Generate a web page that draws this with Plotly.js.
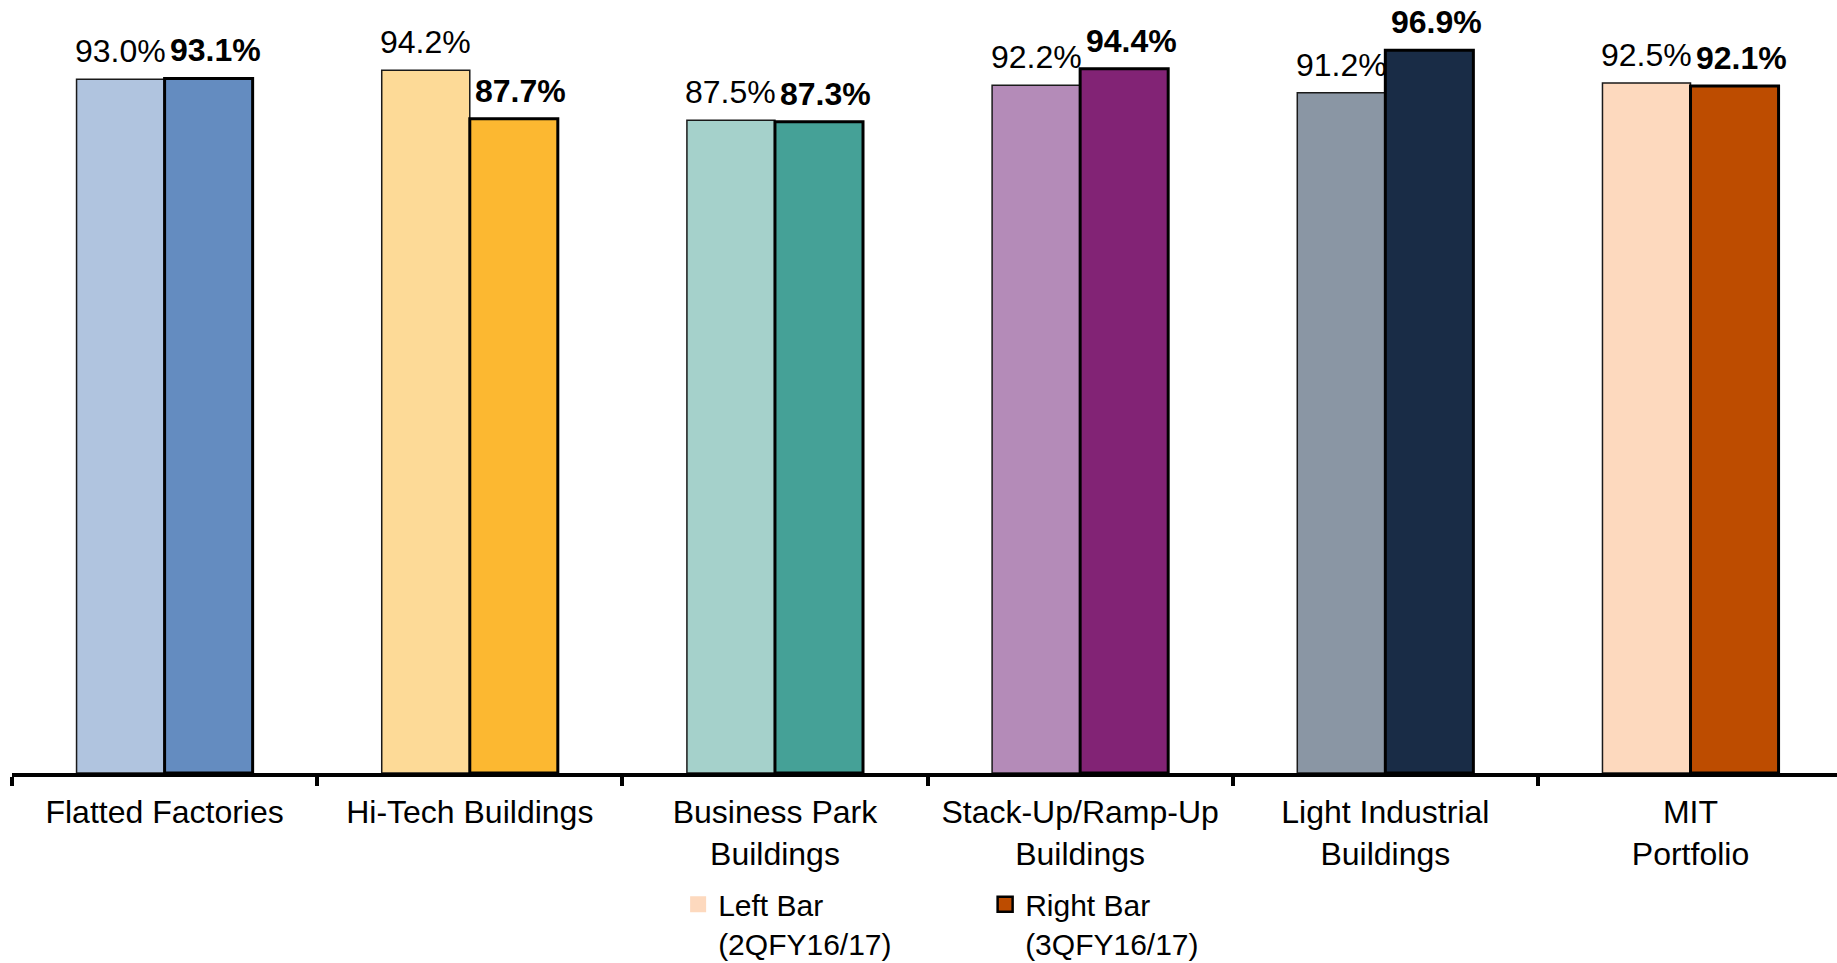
<!DOCTYPE html>
<html>
<head>
<meta charset="utf-8">
<script src="https://cdn.plot.ly/plotly-3.0.1.min.js"></script>
<style>
  html, body { margin: 0; padding: 0; background: #fff; }
  #chart { width: 1837px; height: 963px; }
</style>
</head>
<body>
<div id="chart"></div>
<script>
// ---- data ----
const categories = [
  'Flatted Factories',
  'Hi-Tech Buildings',
  'Business Park<br>Buildings',
  'Stack-Up/Ramp-Up<br>Buildings',
  'Light Industrial<br>Buildings',
  'MIT<br>Portfolio'
];
const leftValues  = [93.0, 94.2, 87.5, 92.2, 91.2, 92.5];   // 2QFY16/17
const rightValues = [93.1, 87.7, 87.3, 94.4, 96.9, 92.1];   // 3QFY16/17
const leftColors  = ['#B0C4DF', '#FDDA97', '#A5D1CB', '#B48BB8', '#8A96A4', '#FDD9BE'];
const rightColors = ['#648CC0', '#FCB831', '#45A197', '#822375', '#192C46', '#BD4C00'];
const leftName  = 'Left Bar<br>(2QFY16/17)';
const rightName = 'Right Bar<br>(3QFY16/17)';

const FONT = 'Liberation Sans, Arial, Helvetica, sans-serif';
const FS = 32;
const LEGEND_FS = 30;

const traces = [
  {
    type: 'bar', x: categories, y: leftValues, name: leftName, showlegend: false,
    marker: { color: leftColors, line: { color: '#1a1a1a', width: 1.5 } },
    hoverinfo: 'x+y'
  },
  {
    type: 'bar', x: categories, y: rightValues, name: rightName, showlegend: false,
    marker: { color: rightColors, line: { color: '#000', width: 3 } },
    hoverinfo: 'x+y'
  },
  // legend entries (use the portfolio colours, as in the reference legend)
  {
    type: 'scatter', mode: 'markers', x: [categories[5]], y: [null], name: leftName, showlegend: true,
    marker: { symbol: 'square', size: 16, color: leftColors[leftColors.length - 1], line: { width: 0 } }
  },
  {
    type: 'scatter', mode: 'markers', x: [categories[5]], y: [null], name: rightName, showlegend: true,
    marker: { symbol: 'square', size: 15, color: rightColors[rightColors.length - 1], line: { color: '#000', width: 2.5 } }
  }
];

// value labels above the bars, placed via the data scales
const annotations = [];
categories.forEach((c, i) => {
  annotations.push({
    xref: 'x', yref: 'y', x: c, y: leftValues[i], xshift: -44, yshift: 8,
    xanchor: 'center', yanchor: 'bottom', showarrow: false,
    text: leftValues[i].toFixed(1) + '%',
    font: { family: FONT, size: FS, color: '#000' }
  });
  annotations.push({
    xref: 'x', yref: 'y', x: c, y: rightValues[i], xshift: 51, yshift: 8,
    xanchor: 'center', yanchor: 'bottom', showarrow: false,
    text: '<b>' + rightValues[i].toFixed(1) + '%</b>',
    font: { family: FONT, size: FS, color: '#000' }
  });
});

const layout = {
  width: 1837, height: 963,
  paper_bgcolor: '#fff', plot_bgcolor: '#fff',
  margin: { l: 12, r: 0, t: 27, b: 190, autoexpand: false },
  font: { family: FONT, size: FS, color: '#000' },
  barmode: 'group', bargap: 0.423, bargroupgap: 0,
  showlegend: true,
  legend: {
    orientation: 'h', x: 0.365, xanchor: 'left', y: -0.141, yanchor: 'top',
    valign: 'top', entrywidth: 262, entrywidthmode: 'pixels',
    font: { family: FONT, size: LEGEND_FS, color: '#000' },
    bgcolor: 'rgba(0,0,0,0)', borderwidth: 0, itemclick: false, itemdoubleclick: false
  },
  annotations: annotations,
  xaxis: {
    type: 'category', range: [-0.5, 5.48],
    showline: true, linecolor: '#000', linewidth: 4,
    ticks: 'outside', tickson: 'boundaries', ticklen: 9, tickwidth: 4, tickcolor: '#000',
    ticklabelstandoff: 8,
    tickfont: { family: FONT, size: FS, color: '#000' },
    showgrid: false, zeroline: false, fixedrange: true
  },
  yaxis: {
    range: [0, 100], visible: false, showgrid: false, zeroline: false, fixedrange: true
  }
};

Plotly.newPlot('chart', traces, layout, { displayModeBar: false, staticPlot: true });
</script>
</body>
</html>
